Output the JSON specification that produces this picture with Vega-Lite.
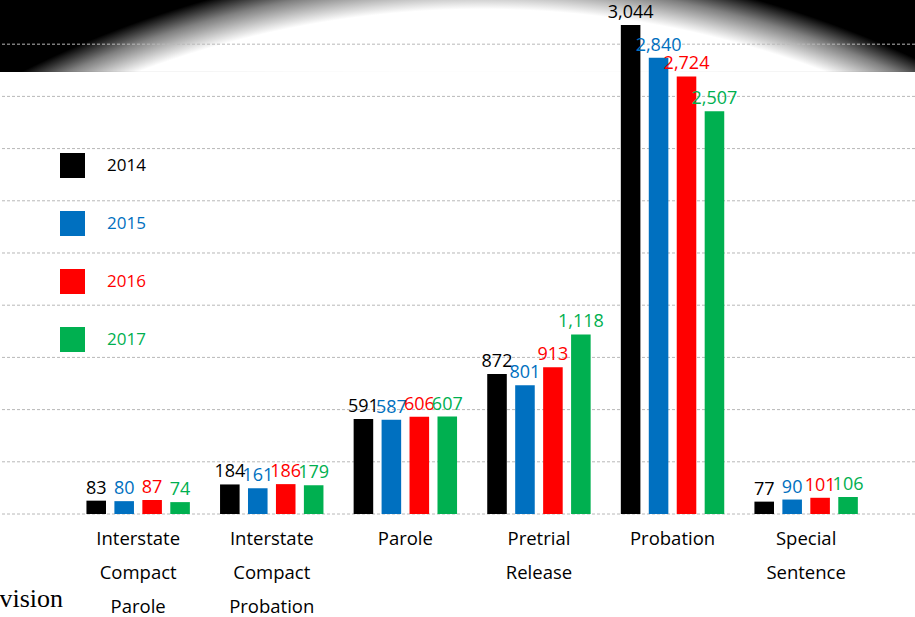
{
  "$schema": "https://vega.github.io/schema/vega-lite/v6.json",
  "width": 915,
  "height": 514,
  "autosize": {"type": "none"},
  "padding": {"left": 0, "top": 0, "right": 0, "bottom": 103},
  "background": "white",
  "config": {"view": {"stroke": null}, "font": "Open Sans"},
  "title": {"text": "vision", "orient": "bottom", "anchor": "start", "font": "Liberation Serif", "fontSize": 26, "fontWeight": "normal", "color": "#000000", "offset": -30},
  "datasets": {
    "counts": [
      {"category": "Interstate Compact Parole", "year": "2014", "value": 83},
      {"category": "Interstate Compact Parole", "year": "2015", "value": 80},
      {"category": "Interstate Compact Parole", "year": "2016", "value": 87},
      {"category": "Interstate Compact Parole", "year": "2017", "value": 74},
      {"category": "Interstate Compact Probation", "year": "2014", "value": 184},
      {"category": "Interstate Compact Probation", "year": "2015", "value": 161},
      {"category": "Interstate Compact Probation", "year": "2016", "value": 186},
      {"category": "Interstate Compact Probation", "year": "2017", "value": 179},
      {"category": "Parole", "year": "2014", "value": 591},
      {"category": "Parole", "year": "2015", "value": 587},
      {"category": "Parole", "year": "2016", "value": 606},
      {"category": "Parole", "year": "2017", "value": 607},
      {"category": "Pretrial Release", "year": "2014", "value": 872},
      {"category": "Pretrial Release", "year": "2015", "value": 801},
      {"category": "Pretrial Release", "year": "2016", "value": 913},
      {"category": "Pretrial Release", "year": "2017", "value": 1118},
      {"category": "Probation", "year": "2014", "value": 3044},
      {"category": "Probation", "year": "2015", "value": 2840},
      {"category": "Probation", "year": "2016", "value": 2724},
      {"category": "Probation", "year": "2017", "value": 2507},
      {"category": "Special Sentence", "year": "2014", "value": 77},
      {"category": "Special Sentence", "year": "2015", "value": 90},
      {"category": "Special Sentence", "year": "2016", "value": 101},
      {"category": "Special Sentence", "year": "2017", "value": 106}
    ],
    "grid": [
      {"g": 0}, {"g": 325}, {"g": 650}, {"g": 975}, {"g": 1300},
      {"g": 1625}, {"g": 1950}, {"g": 2275}, {"g": 2600}, {"g": 2925}
    ]
  },
  "layer": [
    {
      "data": {"values": [{"part": "band"}]},
      "mark": {
        "type": "rect",
        "fill": {
          "gradient": "radial",
          "x1": 0.5268, "y1": 1.537, "r1": 0,
          "x2": 0.5268, "y2": 1.537, "r2": 1.12,
          "stops": [
            {"offset": 0, "color": "#ffffff"},
            {"offset": 0.952, "color": "#ffffff"},
            {"offset": 0.978, "color": "#808080"},
            {"offset": 0.998, "color": "#000000"},
            {"offset": 1, "color": "#000000"}
          ]
        }
      },
      "encoding": {
        "y": {"datum": 2752, "type": "quantitative", "scale": {"domain": [0, 3200], "nice": false, "zero": true}, "axis": null},
        "y2": {"datum": 3200}
      }
    },
    {
      "data": {"name": "grid"},
      "mark": {"type": "rule", "stroke": "#b8b8b8", "strokeDash": [3, 2], "strokeWidth": 1},
      "encoding": {
        "y": {"field": "g", "type": "quantitative", "axis": null}
      }
    },
    {
      "data": {"name": "counts"},
      "mark": {"type": "bar"},
      "encoding": {
        "x": {
          "field": "category", "type": "nominal", "sort": null,
          "scale": {"paddingInner": 0.205, "paddingOuter": 0.527, "align": 0.604},
          "axis": {
            "title": null, "domain": false, "ticks": false, "labelAngle": 0,
            "labelExpr": "split(datum.label, ' ')",
            "labelFont": "Open Sans", "labelFontSize": 18.5, "labelColor": "#000000",
            "labelLineHeight": 34, "labelPadding": 15, "labelOverlap": false
          }
        },
        "xOffset": {"field": "year", "type": "nominal", "scale": {"paddingInner": 0.3, "paddingOuter": 0.05}},
        "y": {"field": "value", "type": "quantitative", "axis": null},
        "color": {
          "field": "year", "type": "nominal",
          "scale": {"domain": ["2014", "2015", "2016", "2017"], "range": ["#000000", "#0070C0", "#FF0000", "#00B050"]},
          "legend": {
            "orient": "none", "legendX": 60, "legendY": 153, "title": null,
            "symbolType": "square", "symbolSize": 625, "symbolStrokeWidth": 0, "symbolOpacity": 1,
            "labelFont": "Open Sans", "labelFontSize": 17, "labelOffset": 22,
            "rowPadding": 33, "padding": 0,
            "encode": {"labels": {"update": {"fill": {"scale": "color", "field": "value"}}}}
          }
        }
      }
    },
    {
      "data": {"name": "counts"},
      "mark": {"type": "text", "font": "Open Sans", "fontSize": 18, "baseline": "bottom", "dy": -3},
      "encoding": {
        "x": {"field": "category", "type": "nominal", "sort": null},
        "xOffset": {"field": "year", "type": "nominal"},
        "y": {"field": "value", "type": "quantitative"},
        "text": {"field": "value", "type": "quantitative", "format": ","},
        "color": {"field": "year", "type": "nominal", "legend": null}
      }
    }
  ]
}
